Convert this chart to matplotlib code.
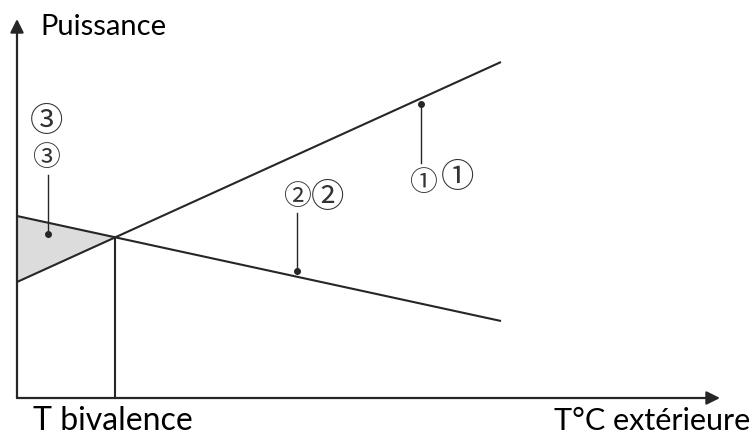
import matplotlib.pyplot as plt
import numpy as np

# outdoor temperature span (arbitrary units, origin at the axes corner)
t_span = [0, 484]
pump_power = [116, 336]      # heat pump output, rises with outdoor temperature
house_demand = [182, 77]     # building heat demand, falls with outdoor temperature

# callouts: x on the curve, dot height, end of the leader
callout_x = [404, 280, 31]
callout_end = [235, 185, 223]
callout_dot_y = [294, 127, 164]
labels_small = ['①', '②', '③']
labels_big = ['①', '②', '③']
small_pos = [(406, 215), (280, 201), (29, 240)]
big_pos = [(441, 221), (311, 201), (30, 277)]

ink = '#262626'
cjk = ['Noto Sans CJK JP', 'DejaVu Sans']

fig = plt.figure(figsize=(7.49, 4.40), dpi=100)
ax = fig.add_axes([0, 0, 1, 1])
ax.set_xlim(-17, 732)
ax.set_ylim(-42, 398)
ax.axis('off')

# axes with arrow heads
arrow = dict(arrowstyle='-|>', color=ink, lw=1.6, mutation_scale=20,
             shrinkA=0, shrinkB=0)
ax.annotate('', xy=(703, 0), xytext=(0, 0), arrowprops=arrow)
ax.annotate('', xy=(0, 379), xytext=(0, 0), arrowprops=arrow)

# the two straight lines and their crossing point
p_slope = (pump_power[1] - pump_power[0]) / (t_span[1] - t_span[0])
d_slope = (house_demand[1] - house_demand[0]) / (t_span[1] - t_span[0])
t_biv = (house_demand[0] - pump_power[0]) / (p_slope - d_slope)
p_biv = pump_power[0] + p_slope * t_biv

ax.plot(t_span, pump_power, color=ink, lw=1.5, solid_capstyle='butt')
ax.plot(t_span, house_demand, color=ink, lw=1.5, solid_capstyle='butt')
ax.plot([t_biv, t_biv], [0, p_biv], color=ink, lw=1.5)

# shortfall below the bivalence point
ax.fill([0, t_biv, 0], [house_demand[0], p_biv, pump_power[0]],
        color='#dcdcdc', zorder=0)

# leaders with their dots
for x, y_dot, y_end in zip(callout_x, callout_dot_y, callout_end):
    ax.plot([x, x], [y_dot, y_end], color=ink, lw=1.0)
    ax.plot(x, y_dot, 'o', color=ink, ms=4)

for lab, (x, y) in zip(labels_small, small_pos):
    ax.text(x, y, lab, family=cjk, fontsize=20, color='#333333',
            ha='center', va='center')
for lab, (x, y) in zip(labels_big, big_pos):
    ax.text(x, y, lab, family=cjk, fontsize=24, color='#333333',
            ha='center', va='center')

ax.text(23, 363, 'Puissance', family='Lato', fontsize=21, color='black',
        ha='left', va='baseline')
ax.text(16, -32, 'T bivalence', family='Lato', fontsize=23, color='black',
        ha='left', va='baseline')
ax.text(537, -32, 'T°C extérieure', family='Lato', fontsize=22, color='black',
        ha='left', va='baseline')

fig.savefig('out.png', dpi=100)
